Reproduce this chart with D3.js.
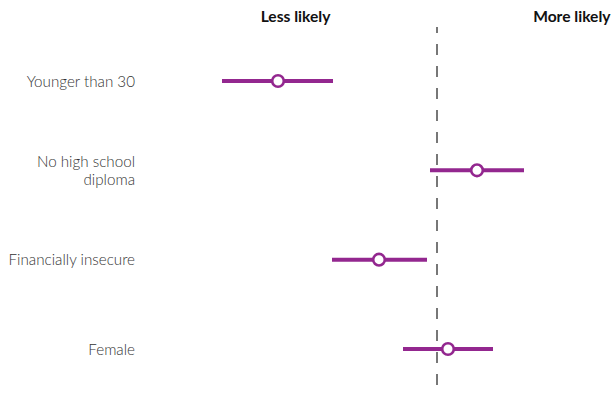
<!DOCTYPE html>
<html><head><meta charset="utf-8">
<script src="https://cdn.jsdelivr.net/npm/d3@7"></script>
<style>html,body{margin:0;padding:0;background:#fff;}svg{display:block;}</style>
</head><body>
<svg id="chart" width="615" height="396"></svg>
<script>
const categories = ["Younger than 30", "No high school diploma", "Financially insecure", "Female"];
const estimates = [-0.159, 0.040, -0.058, 0.011];
const lower = [-0.215, -0.007, -0.105, -0.034];
const upper = [-0.104, 0.087, -0.010, 0.056];
const headers = ["Less likely", "More likely"];

const svg = d3.select("#chart");
const x = d3.scaleLinear().domain([-0.2, 0.15]).range([237, 587]);
const y = d3.scalePoint().domain(categories).range([81, 349]);
const purple = "#93278f";

// reference line at zero
svg.append("line")
  .attr("x1", x(0)).attr("x2", x(0))
  .attr("y1", 27).attr("y2", 396)
  .attr("stroke", "#777").attr("stroke-width", 2)
  .attr("stroke-dasharray", "11,11").attr("stroke-dashoffset", 5);

// headers
svg.append("text").text(headers[0])
  .attr("x", 295.5).attr("y", 22).attr("text-anchor", "middle")
  .attr("font-family", "Lato").attr("font-weight", 700).attr("font-size", 15.6).attr("fill", "#111");
svg.append("text").text(headers[1])
  .attr("x", 610.5).attr("y", 22).attr("text-anchor", "end")
  .attr("font-family", "Lato").attr("font-weight", 700).attr("font-size", 15.6).attr("fill", "#111");

const data = categories.map((c, i) => ({c, est: estimates[i], lo: lower[i], hi: upper[i]}));

// labels
const wrapMap = {"No high school diploma": ["No high school", "diploma"]};
data.forEach(d => {
  const lines = wrapMap[d.c] || [d.c];
  const t = svg.append("text")
    .attr("text-anchor", "end")
    .attr("font-family", "Lato").attr("font-weight", 300).attr("font-size", 15.2).attr("fill", "#333");
  const lh = 17.5;
  const y0 = y(d.c) + 5.5 - (lines.length - 1) * lh / 2;
  lines.forEach((l, k) => {
    t.append("tspan").attr("x", 135).attr("y", y0 + k * lh).text(l);
  });
});

// intervals
svg.selectAll("line.ci").data(data).join("line")
  .attr("class", "ci")
  .attr("x1", d => x(d.lo)).attr("x2", d => x(d.hi))
  .attr("y1", d => y(d.c)).attr("y2", d => y(d.c))
  .attr("stroke", purple).attr("stroke-width", 4);

svg.selectAll("circle.pt").data(data).join("circle")
  .attr("class", "pt")
  .attr("cx", d => x(d.est)).attr("cy", d => y(d.c))
  .attr("r", 5.8)
  .attr("fill", "#fff").attr("stroke", purple).attr("stroke-width", 2.6);
</script>
</body></html>
